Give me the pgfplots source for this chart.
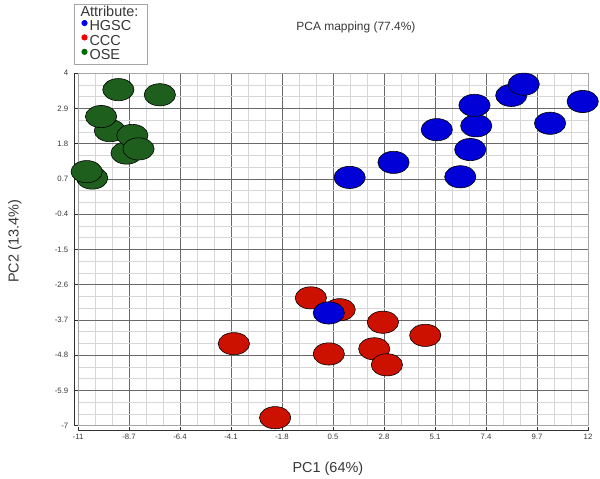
\documentclass[border=0pt]{standalone}
\usepackage{pgfplots}
\pgfplotsset{compat=1.18}
\usepackage{fontspec}
\setmainfont{Liberation Sans}

\definecolor{hgsc}{RGB}{0,0,215}
\definecolor{ccc}{RGB}{204,17,0}
\definecolor{ose}{RGB}{30,95,30}
\definecolor{legblue}{RGB}{0,0,240}
\definecolor{legred}{RGB}{240,0,0}
\definecolor{leggreen}{RGB}{0,105,0}
\definecolor{gridmaj}{RGB}{105,105,105}
\definecolor{gridmin}{RGB}{215,215,215}
\definecolor{frame}{RGB}{165,165,165}
\definecolor{axline}{RGB}{50,50,50}
\definecolor{labeltext}{RGB}{55,55,55}

% ellipse markers, one series per class
\pgfplotsset{
  pcamark/.style={only marks, mark=*, mark size=11.1bp, forget plot,
    mark options={xscale=1.41, fill=#1, draw=black, line width=0.6bp}},
}

\begin{document}
\begin{tikzpicture}
\begin{axis}[
  name=ax,
  scale only axis,
  width=510bp, height=352.4bp,
  xmin=-11, xmax=12, ymin=-7, ymax=4,
  xtick={-11,-8.7,-6.4,-4.1,-1.8,0.5,2.8,5.1,7.4,9.7,12},
  ytick={-7,-5.9,-4.8,-3.7,-2.6,-1.5,-0.4,0.7,1.8,2.9,4},
  minor tick num=2,
  grid=both,
  major grid style={draw=gridmaj, line width=0.8bp},
  minor grid style={draw=gridmin, line width=0.6bp},
  axis x line=bottom, axis y line=left,
  axis x line shift=5bp, axis y line shift=3.7bp,
  axis line style={-, draw=axline, line width=1.2bp},
  tick align=inside,
  major tick length=3.5bp, minor tick length=0pt,
  tick style={draw=axline, line width=0.8bp},
  ticklabel style={font=\fontsize{7.8}{9}\selectfont, text=labeltext},
  yticklabel style={xshift=-2.5bp},
  /pgf/number format/assume math mode=true,
  clip=false,
  title={PCA mapping (77.4\%)},
  title style={at={(axis description cs:0.545,1.114)}, anchor=center,
    font=\fontsize{12}{15}\selectfont, text=labeltext},
  xlabel={PC1 (64\%)},
  xlabel style={at={(axis description cs:0.490,-0.123)}, anchor=center,
    font=\fontsize{14.5}{17}\selectfont, text=labeltext},
  ylabel={PC2 (13.4\%)},
  ylabel style={at={(axis description cs:-0.1235,0.523)}, anchor=center,
    font=\fontsize{14.5}{17}\selectfont, text=labeltext},
  legend style={at={(axis description cs:-0.0078,1.1967)}, anchor=north west,
    draw=frame, line width=0.9bp, font=\fontsize{14.5}{14.5}\selectfont,
    text=labeltext, inner xsep=7bp, inner ysep=1bp, row sep=0bp,
    nodes={text height=10.8bp, text depth=3.2bp, inner ysep=0.2bp}},
  legend cell align=left,
]
\draw[frame, line width=0.8bp] (rel axis cs:0,0) rectangle (rel axis cs:1,1);

\addlegendimage{empty legend}
\addlegendentry{\hspace*{-9bp}Attribute:}
\addlegendimage{legend image code/.code={\fill[legblue] (2.5bp,4bp) circle (2.6bp);}}
\addlegendentry{HGSC}
\addlegendimage{legend image code/.code={\fill[legred] (2.5bp,4bp) circle (2.6bp);}}
\addlegendentry{CCC}
\addlegendimage{legend image code/.code={\fill[leggreen] (2.5bp,4bp) circle (2.6bp);}}
\addlegendentry{OSE}

% OSE
\addplot[pcamark=ose] coordinates {
  (-9.56,2.21) (-9.96,2.65) (-8.81,1.51) (-8.55,2.06) (-8.27,1.64)
  (-10.36,0.73) (-10.61,0.93) (-9.18,3.49) (-7.31,3.33)
};
% CCC
\addplot[pcamark=ccc] coordinates {
  (0.80,-3.38) (-0.50,-3.01) (2.75,-3.77) (4.66,-4.18) (-3.97,-4.44)
  (0.31,-4.76) (2.36,-4.60) (2.93,-5.10) (-2.11,-6.75)
};
% HGSC
\addplot[pcamark=hgsc] coordinates {
  (1.25,0.75) (3.23,1.22) (5.18,2.24) (6.24,0.77) (6.69,1.62)
  (6.96,2.36) (6.88,3.00) (8.54,3.31) (9.10,3.66) (10.29,2.44)
  (11.76,3.12) (0.31,-3.48)
};
\end{axis}
\pgfresetboundingbox
\path (ax.south west) ++(-78bp,-53.3bp) rectangle ++(600bp,479bp);
\end{tikzpicture}
\end{document}
